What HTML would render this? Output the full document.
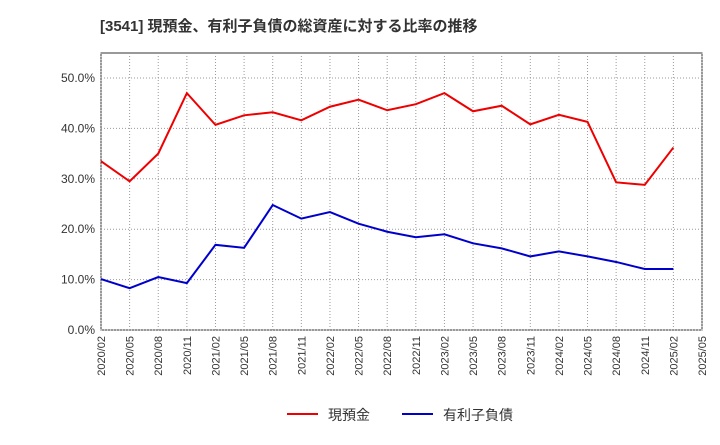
<!DOCTYPE html>
<html><head><meta charset="utf-8"><style>
body{margin:0;background:#fff;font-family:"Liberation Sans","Noto Sans CJK JP",sans-serif;}
</style></head><body>
<svg width="720" height="440" xmlns="http://www.w3.org/2000/svg" font-family="Liberation Sans, Noto Sans CJK JP, sans-serif">
<text x="100" y="31" font-size="15" font-weight="bold" fill="#333">[3541]  現預金、有利子負債の総資産に対する比率の推移</text>
<g id="grid"></g><g id="axes"></g><g id="series"></g>
<g>
<line x1="287" y1="414" x2="318" y2="414" stroke="#e00" stroke-width="2"/>
<text x="328" y="420" font-size="14" fill="#333">現預金</text>
<line x1="402" y1="414" x2="433" y2="414" stroke="#00c" stroke-width="2"/>
<text x="443" y="420" font-size="14" fill="#333">有利子負債</text>
</g>
</svg>
<script>
const labels=["2020/02","2020/05","2020/08","2020/11","2021/02","2021/05","2021/08","2021/11","2022/02","2022/05","2022/08","2022/11","2023/02","2023/05","2023/08","2023/11","2024/02","2024/05","2024/08","2024/11","2025/02","2025/05"];
const cash=[33.5,29.5,35,47,40.7,42.6,43.2,41.6,44.3,45.7,43.6,44.8,47,43.4,44.5,40.8,42.7,41.3,29.3,28.8,36.2];
const debt=[10.1,8.3,10.5,9.3,16.9,16.3,24.8,22.1,23.4,21.1,19.5,18.4,19.0,17.2,16.2,14.6,15.6,14.6,13.5,12.1,12.1];
const yTicks=[0,10,20,30,40,50];
const L=101,R=702,T=53,B=330;
const xs=i=>L+i*(R-L)/(labels.length-1);
const ys=v=>B-v*(B-78)/50;
const NS="http://www.w3.org/2000/svg";
function mk(p,t,a){const e=document.createElementNS(NS,t);for(const k in a)e.setAttribute(k,a[k]);p.appendChild(e);return e;}
const g=document.getElementById('grid'),ax=document.getElementById('axes'),s=document.getElementById('series');
const bg=mk(g,'rect',{x:L,y:T,width:R-L,height:B-T,fill:'#fff',stroke:'#333','stroke-width':1});


yTicks.forEach(v=>{
 const l=mk(g,'line',{x1:L,x2:R,y1:ys(v),y2:ys(v),stroke:'#999','stroke-dasharray':'1,2'});
 
 
 const t=mk(ax,'text',{x:L-6,y:ys(v)+4,'text-anchor':'end','font-size':12,fill:'#333'});
 t.textContent=v.toFixed(1)+'%';
 
 
});
labels.forEach((lb,i)=>{
 const l=mk(g,'line',{x1:xs(i),x2:xs(i),y1:T,y2:B,stroke:'#999','stroke-dasharray':'1,2'});
 
 
 const t=mk(ax,'text',{x:0,y:0,'text-anchor':'end','font-size':11,fill:'#333',transform:`translate(${xs(i)+4},${B+6}) rotate(-90)`});
 t.textContent=lb;
 
 
});
function line(d,c,n){
 const p=mk(s,'polyline',{points:d.map((v,i)=>xs(i)+','+ys(v)).join(' '),fill:'none',stroke:c,'stroke-width':2});
 
 
}
line(cash,'#e00','cash-line');
line(debt,'#00c','debt-line');
</script>
</body></html>
